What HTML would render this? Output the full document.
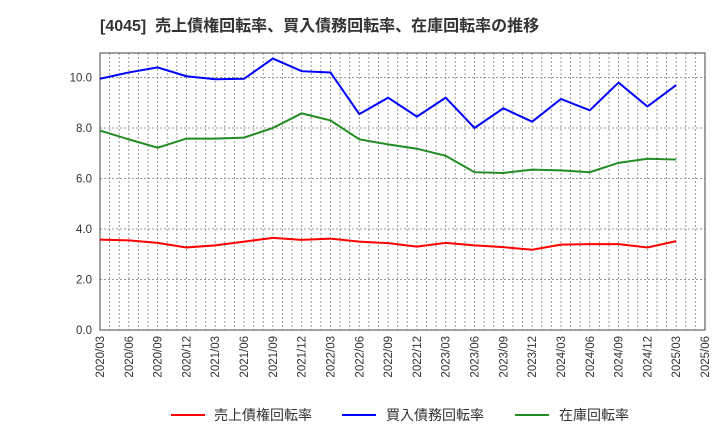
<!DOCTYPE html>
<html><head><meta charset="utf-8"><style>
body{margin:0;background:#fff;width:720px;height:440px;overflow:hidden}
text{font-family:"Liberation Sans","Noto Sans CJK JP",sans-serif}
</style></head><body>
<svg id="chart" width="720" height="440">
<text x="100" y="31" font-size="16" font-weight="bold" fill="#333" style="white-space:pre" xml:space="preserve">[4045]  売上債権回転率、買入債務回転率、在庫回転率の推移</text>
<g id="grid"></g><g id="axes"></g><g id="series"></g>
<g>
<line x1="171" y1="415" x2="205" y2="415" stroke="#f00" stroke-width="2"/>
<text x="214" y="420" font-size="14" fill="#333">売上債権回転率</text>
<line x1="342" y1="415" x2="376" y2="415" stroke="#00f" stroke-width="2"/>
<text x="386" y="420" font-size="14" fill="#333">買入債務回転率</text>
<line x1="515" y1="415" x2="549" y2="415" stroke="#228b22" stroke-width="2"/>
<text x="559" y="420" font-size="14" fill="#333">在庫回転率</text>
</g>
</svg>
<script>
const categories=["2020/03","2020/06","2020/09","2020/12","2021/03","2021/06","2021/09","2021/12","2022/03","2022/06","2022/09","2022/12","2023/03","2023/06","2023/09","2023/12","2024/03","2024/06","2024/09","2024/12","2025/03","2025/06"];
const receivables=[3.58,3.55,3.45,3.27,3.35,3.5,3.65,3.57,3.62,3.5,3.44,3.3,3.45,3.35,3.28,3.18,3.38,3.4,3.4,3.27,3.52];
const payables=[9.95,10.2,10.4,10.05,9.93,9.95,10.75,10.25,10.2,8.55,9.2,8.45,9.2,8.0,8.78,8.25,9.15,8.7,9.8,8.85,9.7];
const inventory=[7.9,7.55,7.22,7.58,7.58,7.62,8.0,8.58,8.3,7.55,7.35,7.18,6.9,6.25,6.22,6.35,6.32,6.25,6.62,6.78,6.75];
const yTicks=[0,2,4,6,8,10];
const yTickLabels=["0.0","2.0","4.0","6.0","8.0","10.0"];
const L=100,R=705,T=53,B=330;
const x=i=>L+(R-L)*i/(categories.length-1);
const y=v=>B-(v/10)*(B-77.5);
const NS="http://www.w3.org/2000/svg";
function mk(parent,tag,attrs){const e=document.createElementNS(NS,tag);for(const k in attrs)e.setAttribute(k,attrs[k]);document.getElementById(parent).appendChild(e);return e;}
for(let m=0;m<=(categories.length-1)*3;m++){const xx=L+(R-L)*m/((categories.length-1)*3);
const g=mk("grid","line",{x1:xx,x2:xx,y1:T,y2:B,stroke:"#999","stroke-dasharray":"2,2","stroke-width":1});

}
yTicks.forEach((v,i)=>{const yy=y(v);
const g=mk("grid","line",{x1:L,x2:R,y1:yy,y2:yy,stroke:"#999","stroke-dasharray":"2,2"});


const t=mk("axes","text",{x:L-8,y:yy+4,"text-anchor":"end","font-size":11.5,fill:"#333"});t.textContent=yTickLabels[i];

});
categories.forEach((c,i)=>{const xx=x(i);
const t=mk("axes","text",{x:0,y:0,transform:`translate(${xx+4},${B+6}) rotate(-90)`,"text-anchor":"end","font-size":11.5,fill:"#333"});t.textContent=c;

});
const frame=mk("axes","rect",{x:L,y:T,width:R-L,height:B-T,fill:"none",stroke:"#444"});


[[receivables,"#f00","receivables-line"],[payables,"#00f","payables-line"],[inventory,"#228b22","inventory-line"]].forEach(([d,c,n])=>{
const p=mk("series","polyline",{points:d.map((v,i)=>x(i)+","+y(v)).join(" "),fill:"none",stroke:c,"stroke-width":2});

});
</script>
</body></html>
